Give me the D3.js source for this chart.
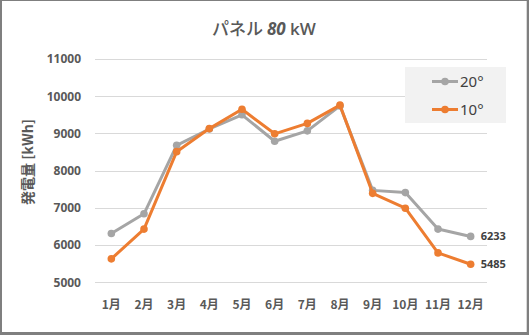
<!DOCTYPE html>
<html>
<head>
<meta charset="utf-8">
<script src="https://cdn.jsdelivr.net/npm/d3@7"></script>
<style>
  html, body { margin: 0; padding: 0; background: #7f7f7f; }
  svg { display: block; }
  text { font-family: "Noto Sans CJK JP", "Noto Sans", sans-serif; }
</style>
</head>
<body>
<script>
// Monthly generation (kWh) for an 80 kW panel at two tilt angles
const months = ["1月","2月","3月","4月","5月","6月","7月","8月","9月","10月","11月","12月"];
const tilt20 = [6310, 6840, 8680, 9120, 9500, 8790, 9070, 9740, 7470, 7410, 6430, 6233];
const tilt10 = [5630, 6430, 8510, 9130, 9650, 8990, 9270, 9760, 7390, 6990, 5790, 5485];
const yTicks = [5000, 6000, 7000, 8000, 9000, 10000, 11000];
const seriesNames = ["20°", "10°"];
const seriesColors = ["#a5a5a5", "#ed7d31"];

const W = 529, H = 335;
const svg = d3.select("body").append("svg").attr("width", W).attr("height", H);

// Chart area frame
svg.append("rect").attr("x", 2).attr("y", 1).attr("width", 524).attr("height", 331)
  .attr("fill", "#ffffff");
svg.append("line").attr("x1", 526.5).attr("x2", 526.5).attr("y1", 1).attr("y2", 332)
  .attr("stroke", "#d9d9d9");

const x = d3.scaleBand().domain(months).range([95, 487]);
const y = d3.scaleLinear().domain([5000, 11000]).range([282.3, 59]);

// Horizontal gridlines
svg.append("g").selectAll("line").data(yTicks).join("line")
  .attr("x1", 95).attr("x2", 487)
  .attr("y1", d => Math.round(y(d)) + 0.5).attr("y2", d => Math.round(y(d)) + 0.5)
  .attr("stroke", "#d9d9d9").attr("stroke-width", 1);

// Y axis labels
const yAxis = d3.axisLeft(y).tickValues(yTicks).tickSize(0).tickPadding(0).tickFormat(d3.format("d"));
const gy = svg.append("g").attr("transform", "translate(81,0)").call(yAxis);
gy.select(".domain").remove();
gy.selectAll("text").attr("fill", "#595959").attr("font-size", "12px").attr("font-weight", "bold")
  .style("font-family", "'Noto Sans', sans-serif");

// X axis labels
const xAxis = d3.axisBottom(x).tickSize(0).tickPadding(0);
const gx = svg.append("g").attr("transform", "translate(0,300)").call(xAxis);
gx.select(".domain").remove();
gx.selectAll("text").attr("fill", "#595959").attr("font-size", "12px").attr("font-weight", "bold");

// Y axis title
svg.append("text")
  .attr("transform", "translate(33,162) rotate(-90)")
  .attr("text-anchor", "middle")
  .attr("fill", "#595959").attr("font-size", "14px").attr("font-weight", "bold")
  .text("発電量 [kWh]");

// Title
const title = svg.append("text").attr("x", 264).attr("y", 35).attr("text-anchor", "middle")
  .attr("fill", "#595959").attr("font-size", "17px").attr("font-weight", "500");
title.append("tspan").text("パネル ");
title.append("tspan").attr("font-style", "italic").attr("font-weight", "bold")
  .style("font-family", "'Open Sans', sans-serif").text("80");
title.append("tspan").attr("font-weight", "600").style("font-family", "'Open Sans', sans-serif").text(" kW");

// Series lines and markers
const line = d3.line().x((d, i) => x(months[i]) + x.bandwidth() / 2).y(d => y(d));
[tilt20, tilt10].forEach((vals, s) => {
  const g = svg.append("g");
  g.append("path").datum(vals).attr("d", line)
    .attr("fill", "none").attr("stroke", seriesColors[s]).attr("stroke-width", 3)
    .attr("stroke-linejoin", "round").attr("stroke-linecap", "round");
  g.selectAll("circle").data(vals).join("circle")
    .attr("cx", (d, i) => x(months[i]) + x.bandwidth() / 2).attr("cy", d => y(d))
    .attr("r", 3.8).attr("fill", seriesColors[s]);
  // Label on the last point
  const last = vals[vals.length - 1];
  g.append("text")
    .attr("x", x(months[11]) + x.bandwidth() / 2 + 10).attr("y", y(last) + 4)
    .attr("fill", "#404040").attr("font-size", "11px").attr("font-weight", "bold")
    .style("font-family", "'Noto Sans', sans-serif")
    .text(last);
});

// Legend
const lg = svg.append("g");
lg.append("rect").attr("x", 405).attr("y", 67).attr("width", 101).attr("height", 56).attr("fill", "#f2f2f2");
seriesNames.forEach((name, i) => {
  const ly = 81.5 + i * 28;
  lg.append("line").attr("x1", 432).attr("x2", 458).attr("y1", ly).attr("y2", ly)
    .attr("stroke", seriesColors[i]).attr("stroke-width", 3);
  lg.append("circle").attr("cx", 445).attr("cy", ly).attr("r", 3.8).attr("fill", seriesColors[i]);
  lg.append("text").attr("x", 460).attr("y", ly + 5.5)
    .attr("fill", "#404040").attr("font-size", "15px")
    .style("font-family", "'Noto Sans', sans-serif")
    .text(name);
});
</script>
</body>
</html>
